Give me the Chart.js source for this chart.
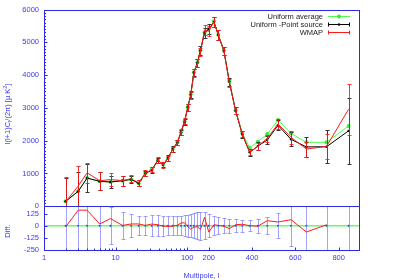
<!DOCTYPE html>
<html>
<head>
<meta charset="utf-8">
<script src="https://cdn.jsdelivr.net/npm/chart.js@4.4.1/dist/chart.umd.min.js"></script>
<style>
  html, body { margin: 0; padding: 0; background: #fff; }
</style>
</head>
<body>
<canvas id="cmbChart" width="400" height="280"></canvas>
<script>
// multipole bins
const ell = [2, 3, 4, 6, 8.5, 12.5, 16.5, 21, 26, 32, 39, 46, 54, 63, 73, 82, 92, 102, 112, 124,
  139, 153, 175, 200, 224, 244, 270, 295, 324, 355, 389, 427, 470, 520, 580, 651, 744, 846];

// l(l+1)C_l/2pi  [uK^2]
const uniformAvg = [150, 455, 860, 760, 740, 780, 820, 700, 1010, 1110, 1410, 1270, 1475, 1750, 1950, 2260, 2590, 3030, 3415, 4090,
  4390, 4760, 5300, 5420, 5640, 5230, 4750, 3820, 2930, 2230, 1780, 1970, 2200, 2630, 2220, 1950, 1950, 2450];
const uniformPS = [150, 455, 860, 760, 740, 780, 820, 700, 1000, 1100, 1400, 1265, 1470, 1745, 1945, 2250, 2580, 3020, 3400, 4080,
  4380, 4750, 5290, 5400, 5620, 5220, 4740, 3800, 2910, 2190, 1645, 1835, 2020, 2470, 2040, 1810, 1815, 2300];
const uniformPSErr = [710, 580, 430, 275, 190, 150, 110, 95, 90, 85, 80, 80, 80, 80, 85, 90, 95, 100, 105, 110,
  120, 130, 150, 150, 150, 140, 130, 120, 110, 95, 100, 110, 120, 150, 210, 315, 505, 1010];
const wmap = [136, 615, 1020, 778, 813, 783, 838, 718, 1003, 1117, 1410, 1260, 1463, 1740, 1950, 2278, 2610, 3010, 3365, 4065,
  4370, 4710, 5377, 5334, 5630, 5223, 4735, 3770, 2920, 2205, 1645, 1830, 2072, 2508, 2102, 1745, 1825, 2960];
const wmapErr = [750, 600, 310, 270, 190, 150, 110, 95, 90, 85, 80, 80, 80, 80, 85, 90, 95, 100, 105, 110,
  120, 130, 150, 150, 150, 140, 130, 120, 100, 90, 90, 100, 110, 140, 200, 230, 370, 780];

// lower panel: WMAP - (uniform - point source)
const diff = [-14, 160, 160, 18, 73, 3, 18, 18, 3, 17, 10, -5, -7, -5, 5, 28, 30, -10, -35, -15,
  -10, -40, 87, -66, 10, 3, -5, -30, 10, 15, 0, -5, 52, 38, 62, -65, 10, null];
const diffErr = [400, 400, 400, 400, 190, 140, 120, 95, 95, 110, 110, 105, 100, 100, 100, 100, 110, 115, 120, 130,
  140, 145, 140, 120, 100, 90, 80, 70, 65, 60, 55, 70, 85, 130, 210, 400, 400, 400];

const xTicks = [1, 10, 100, 200, 400, 600, 800];
const xMinorTicks = [2, 3, 4, 5, 6, 7, 8, 9, 20, 30, 40, 50, 60, 70, 80, 90];
const yTicks = [0, 1000, 2000, 3000, 4000, 5000, 6000];
const diffTicks = [-250, -125, 0, 125];

const BLUE = '#2b2be6';
const LABEL_BLUE = '#3a3af5';
const GREEN = '#4dff4d';
const RED = '#ff1a1a';
const FONT = '"Liberation Sans", Arial, sans-serif';

// axis is logarithmic up to l=200 and linear after that
const BREAK = 200;
const LIN = 0.003024;
function warp(l) {
  return l <= BREAK ? Math.log10(l) : Math.log10(BREAK) + (l - BREAK) * LIN;
}
function unwarp(t) {
  const tb = Math.log10(BREAK);
  return t <= tb ? Math.pow(10, t) : BREAK + (t - tb) / LIN;
}

class HybridScale extends Chart.LinearScale {
  buildTicks() {
    return xTicks.map(v => ({ value: v }));
  }
  getPixelForValue(value) {
    if (value === null || value === undefined) return NaN;
    const a = warp(this.min), b = warp(this.max);
    return this.getPixelForDecimal((warp(value) - a) / (b - a));
  }
  getValueForPixel(pixel) {
    const a = warp(this.min), b = warp(this.max);
    return unwarp(a + this.getDecimalForPixel(pixel) * (b - a));
  }
}
HybridScale.id = 'hybrid';
HybridScale.defaults = {};
Chart.register(HybridScale);

function pts(ys) {
  return ell.map((l, i) => ({ x: l, y: ys[i] }));
}

const errorBars = {
  id: 'errorBars',
  afterDatasetDraw(chart, args) {
    const ds = chart.data.datasets[args.index];
    if (!ds.errs) return;
    const xs = chart.scales.x;
    const ys = chart.scales[args.meta.yAxisID];
    const ctx = chart.ctx;
    ctx.save();
    ctx.beginPath();
    ctx.rect(xs.left, ys.top, xs.width, ys.height);
    ctx.clip();
    ctx.strokeStyle = ds.errColor;
    ctx.lineWidth = 1;
    ds.data.forEach((p, i) => {
      if (p.y === null) return;
      const x = Math.round(xs.getPixelForValue(p.x)) + 0.5;
      const y1 = Math.round(ys.getPixelForValue(p.y - ds.errs[i])) + 0.5;
      const y2 = Math.round(ys.getPixelForValue(p.y + ds.errs[i])) + 0.5;
      ctx.beginPath();
      ctx.moveTo(x, y1); ctx.lineTo(x, y2);
      ctx.moveTo(x - 2, y1); ctx.lineTo(x + 2, y1);
      ctx.moveTo(x - 2, y2); ctx.lineTo(x + 2, y2);
      ctx.stroke();
    });
    ctx.restore();
  }
};

const zeroLine = {
  id: 'zeroLine',
  beforeDatasetsDraw(chart) {
    const ys = chart.scales.y2, xs = chart.scales.x;
    const y = ys.getPixelForValue(0);
    const ctx = chart.ctx;
    ctx.save();
    ctx.strokeStyle = '#66ff66';
    ctx.lineWidth = 1.5;
    ctx.beginPath();
    ctx.moveTo(xs.left, y);
    ctx.lineTo(xs.right, y);
    ctx.stroke();
    ctx.restore();
  }
};

const frame = {
  id: 'frame',
  afterDraw(chart) {
    const ctx = chart.ctx;
    const xs = chart.scales.x, ys = chart.scales.y, yd = chart.scales.y2;
    const L = Math.round(xs.left) + 0.5, R = Math.round(xs.right) + 0.5;
    ctx.save();
    ctx.strokeStyle = BLUE;
    ctx.lineWidth = 1;
    [ys, yd].forEach(s => {
      ctx.strokeRect(L, Math.round(s.top) + 0.5, R - L, Math.round(s.bottom) - Math.round(s.top));
    });
    ctx.beginPath();
    // y ticks, inward
    yTicks.forEach(v => {
      const y = Math.round(ys.getPixelForValue(v)) + 0.5;
      ctx.moveTo(L, y); ctx.lineTo(L + 3, y);
    });
    for (let v = 100; v < 6000; v += 100) {
      if (v % 1000 === 0) continue;
      const y = Math.round(ys.getPixelForValue(v)) + 0.5;
      ctx.moveTo(L, y); ctx.lineTo(L + 1.5, y);
    }
    diffTicks.forEach(v => {
      const y = Math.round(yd.getPixelForValue(v)) + 0.5;
      ctx.moveTo(L, y); ctx.lineTo(L + 3, y);
    });
    // x ticks on bottom panel
    const B = Math.round(yd.bottom) + 0.5;
    xTicks.forEach(v => {
      const x = Math.round(xs.getPixelForValue(v)) + 0.5;
      ctx.moveTo(x, B); ctx.lineTo(x, B - 3);
    });
    xMinorTicks.forEach(v => {
      const x = Math.round(xs.getPixelForValue(v)) + 0.5;
      ctx.moveTo(x, B); ctx.lineTo(x, B - 2);
    });
    ctx.stroke();

    // y titles
    ctx.fillStyle = LABEL_BLUE;
    ctx.textBaseline = 'middle';
    ctx.translate(8, (ys.top + ys.bottom) / 2 + 6);
    ctx.rotate(-Math.PI / 2);
    const parts = [['l(l+1)C', 0, 7.5], ['l', 2, 5.5], ['/(2\u03c0) [\u00b5 K', 0, 7.5], ['2', -3, 5.5], [']', 0, 7.5]];
    let w = 0;
    parts.forEach(p => { ctx.font = p[2] + 'px ' + FONT; w += ctx.measureText(p[0]).width; });
    let cx = -w / 2;
    parts.forEach(p => {
      ctx.font = p[2] + 'px ' + FONT;
      ctx.fillText(p[0], cx, p[1]);
      cx += ctx.measureText(p[0]).width;
    });
    ctx.restore();

    ctx.save();
    ctx.fillStyle = LABEL_BLUE;
    ctx.font = '7.5px ' + FONT;
    ctx.textAlign = 'center';
    ctx.textBaseline = 'middle';
    ctx.translate(8, (yd.top + yd.bottom) / 2 + 3);
    ctx.rotate(-Math.PI / 2);
    ctx.fillText('Diff.', 0, 0);
    ctx.restore();

    // legend
    const rows = [
      { label: 'Uniform average', color: GREEN, dot: '#33ee33', r: 2, caps: false },
      { label: 'Uniform -Point source', color: '#000', dot: '#000', r: 1.2, caps: true },
      { label: 'WMAP', color: RED, dot: null, r: 0, caps: true }
    ];
    ctx.save();
    ctx.font = '7.5px ' + FONT;
    ctx.textAlign = 'right';
    ctx.textBaseline = 'middle';
    rows.forEach((row, i) => {
      const y = 16.5 + i * 8;
      ctx.fillStyle = '#222';
      ctx.fillText(row.label, 323, y);
      ctx.strokeStyle = row.color;
      ctx.lineWidth = 1;
      ctx.beginPath();
      ctx.moveTo(328, y); ctx.lineTo(350, y);
      if (row.caps) {
        ctx.moveTo(328.5, y - 2); ctx.lineTo(328.5, y + 2);
        ctx.moveTo(349.5, y - 2); ctx.lineTo(349.5, y + 2);
      }
      ctx.stroke();
      if (row.dot) {
        ctx.fillStyle = row.dot;
        ctx.beginPath();
        ctx.arc(339, y, row.r, 0, Math.PI * 2);
        ctx.fill();
      }
    });
    ctx.restore();
  }
};

const tickFont = { family: FONT, size: 7.5 };

new Chart(document.getElementById('cmbChart'), {
  type: 'line',
  data: {
    datasets: [
      {
        label: 'WMAP', data: pts(wmap), yAxisID: 'y', order: 1,
        borderColor: RED, borderWidth: 1, pointRadius: 0,
        errs: wmapErr, errColor: 'rgba(255,20,20,0.85)'
      },
      {
        label: 'Uniform -Point source', data: pts(uniformPS), yAxisID: 'y', order: 2,
        borderColor: '#000', borderWidth: 1, pointRadius: 1.2,
        pointBackgroundColor: '#000', pointBorderWidth: 0,
        errs: uniformPSErr, errColor: '#333'
      },
      {
        label: 'Uniform average', data: pts(uniformAvg), yAxisID: 'y', order: 3,
        borderColor: GREEN, borderWidth: 1, pointRadius: 2,
        pointBackgroundColor: '#33ee33', pointBorderWidth: 0
      },
      {
        label: 'diff', data: pts(diff), yAxisID: 'y2', order: 0,
        borderColor: RED, borderWidth: 1, pointRadius: 0
      },
      {
        label: 'zero', data: ell.map(l => ({ x: l, y: 0 })), yAxisID: 'y2', order: 5,
        showLine: false, pointRadius: 1, pointBackgroundColor: '#3333ff', pointBorderWidth: 0,
        errs: diffErr, errColor: 'rgba(110,110,255,0.65)'
      }
    ]
  },
  options: {
    responsive: false,
    animation: false,
    devicePixelRatio: 1,
    layout: { padding: { left: 0, top: 8, right: 41, bottom: 0 } },
    elements: { line: { tension: 0 } },
    plugins: { legend: { display: false }, tooltip: { enabled: false } },
    scales: {
      x: {
        type: 'hybrid', position: 'bottom', min: 1, max: 894,
        grid: { display: false, drawTicks: false },
        border: { display: false },
        ticks: { autoSkip: false, maxRotation: 0, color: LABEL_BLUE, font: tickFont, padding: 3,
          callback: v => String(v) },
        title: { display: true, text: 'Multipole, l', color: LABEL_BLUE, font: tickFont, padding: 0 },
        afterFit(s) { s.height = 30; }
      },
      y: {
        type: 'linear', position: 'left', stack: 'panels', stackWeight: 198, weight: 1,
        min: 0, max: 6000,
        afterBuildTicks(s) { s.ticks = yTicks.map(v => ({ value: v })); },
        grid: { display: false, drawTicks: false },
        border: { display: false },
        ticks: { autoSkip: false, color: LABEL_BLUE, font: tickFont, padding: 5, callback: v => String(v) },
        afterFit(s) { s.width = 44; }
      },
      y2: {
        type: 'linear', position: 'left', stack: 'panels', stackWeight: 44, weight: 0,
        min: -250, max: 200,
        afterBuildTicks(s) { s.ticks = diffTicks.map(v => ({ value: v })); },
        grid: { display: false, drawTicks: false },
        border: { display: false },
        ticks: { autoSkip: false, color: LABEL_BLUE, font: tickFont, padding: 5, callback: v => String(v) },
        afterFit(s) { s.width = 44; }
      }
    }
  },
  plugins: [zeroLine, errorBars, frame]
});
</script>
</body>
</html>
